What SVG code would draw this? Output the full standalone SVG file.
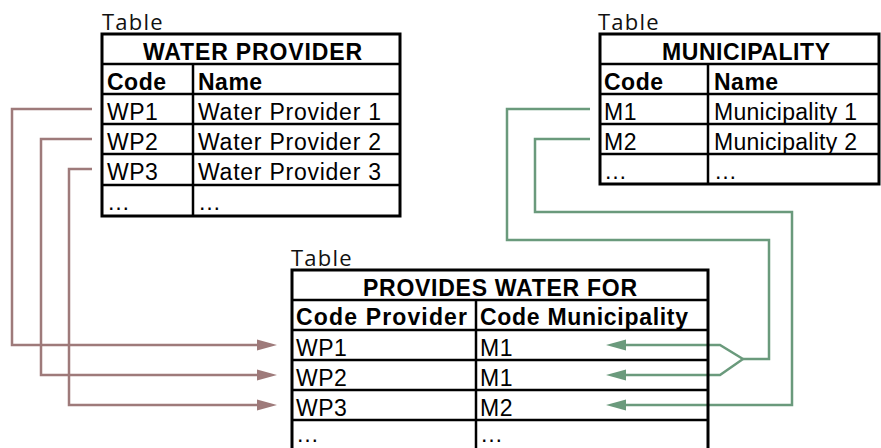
<svg xmlns="http://www.w3.org/2000/svg" width="881" height="448" viewBox="0 0 881 448">
  <style>
    .cap { font-family: "Open Sans", "Noto Sans", sans-serif; font-size: 22px; letter-spacing: 1.2px; fill: #111; }
    .t { font-family: "Liberation Sans", Arial, sans-serif; font-size: 23px; letter-spacing: 0.5px; fill: #000; }
    .b { font-family: "Liberation Sans", Arial, sans-serif; font-size: 23px; font-weight: bold; letter-spacing: 0.5px; fill: #000; }
    .fit { letter-spacing: 0; }
    .frame { fill: none; stroke: #000; stroke-width: 3; }
    .grid { fill: none; stroke: #000; stroke-width: 2.5; }
    .fk-p { fill: none; stroke: #9e7a7a; stroke-width: 2.5; marker-end: url(#arrowP); }
    .fk-m { fill: none; stroke: #6a9a7c; stroke-width: 2.5; }
    .fk-m.end { marker-end: url(#arrowM); }
  </style>
  <defs>
    <marker id="arrowP" markerUnits="userSpaceOnUse" markerWidth="22" markerHeight="14" refX="1" refY="6" orient="auto">
      <path d="M0,0.5 L20,6 L0,11.5 Z" fill="#9e7a7a"/>
    </marker>
    <marker id="arrowM" markerUnits="userSpaceOnUse" markerWidth="22" markerHeight="14" refX="1" refY="6" orient="auto">
      <path d="M0,0.5 L20,6 L0,11.5 Z" fill="#6a9a7c"/>
    </marker>
  </defs>

  <rect width="881" height="448" fill="#fff"/>

  <!-- foreign-key links -->
  <g id="connectors">
    <path class="fk-p" d="M92,109 H12 V345 H258"/>
    <path class="fk-p" d="M92,139 H41 V375 H258"/>
    <path class="fk-p" d="M92,169 H69 V405 H258"/>
    <path class="fk-m" d="M590,109 H507 V240 H769 V359 H743"/>
    <path class="fk-m end" d="M743,359 L720,345 H625"/>
    <path class="fk-m end" d="M743,359 L720,375 H625"/>
    <path class="fk-m end" d="M590,139 H535 V212 H792 V405 H625"/>
  </g>

  <!-- WATER PROVIDER -->
  <g id="water-provider">
    <text class="cap" x="102" y="30">Table</text>
    <rect class="frame" x="102" y="34" width="298" height="182"/>
    <path class="grid" d="M102,64 H400 M102,94 H400 M102,124 H400 M102,154 H400 M102,185 H400 M193,64 V216"/>
    <text class="b fit" x="143" y="60" textLength="219" lengthAdjust="spacing">WATER PROVIDER</text>
    <text class="b" x="107" y="90">Code</text>
    <text class="b" x="198" y="90">Name</text>
    <text class="t" x="107" y="120">WP1</text>
    <text class="t fit" x="198" y="120" textLength="183" lengthAdjust="spacing">Water Provider 1</text>
    <text class="t" x="107" y="150">WP2</text>
    <text class="t fit" x="198" y="150" textLength="183" lengthAdjust="spacing">Water Provider 2</text>
    <text class="t" x="107" y="180">WP3</text>
    <text class="t fit" x="198" y="180" textLength="183" lengthAdjust="spacing">Water Provider 3</text>
    <text class="t" x="107" y="210">…</text>
    <text class="t" x="198" y="210">…</text>
  </g>

  <!-- MUNICIPALITY -->
  <g id="municipality">
    <text class="cap" x="598" y="30">Table</text>
    <rect class="frame" x="600" y="34" width="279" height="150"/>
    <path class="grid" d="M600,64 H879 M600,94 H879 M600,124 H879 M600,154 H879 M708,64 V184"/>
    <text class="b fit" x="662" y="60" textLength="168" lengthAdjust="spacing">MUNICIPALITY</text>
    <text class="b" x="604" y="90">Code</text>
    <text class="b" x="714" y="90">Name</text>
    <text class="t" x="604" y="120">M1</text>
    <text class="t fit" x="714" y="120" textLength="143" lengthAdjust="spacing">Municipality 1</text>
    <text class="t" x="604" y="150">M2</text>
    <text class="t fit" x="714" y="150" textLength="143" lengthAdjust="spacing">Municipality 2</text>
    <text class="t" x="604" y="179">…</text>
    <text class="t" x="714" y="179">…</text>
  </g>

  <!-- PROVIDES WATER FOR -->
  <g id="provides-water-for">
    <text class="cap" x="291" y="266">Table</text>
    <rect class="frame" x="292" y="270" width="416" height="184"/>
    <path class="grid" d="M292,300 H708 M292,330 H708 M292,360 H708 M292,390 H708 M292,420 H708 M476,300 V454"/>
    <text class="b fit" x="363" y="296" textLength="274" lengthAdjust="spacing">PROVIDES WATER FOR</text>
    <text class="b fit" x="296" y="325" textLength="171" lengthAdjust="spacing">Code Provider</text>
    <text class="b fit" x="480" y="325" textLength="208" lengthAdjust="spacing">Code Municipality</text>
    <text class="t" x="296" y="356">WP1</text>
    <text class="t" x="480" y="356">M1</text>
    <text class="t" x="296" y="386">WP2</text>
    <text class="t" x="480" y="386">M1</text>
    <text class="t" x="296" y="416">WP3</text>
    <text class="t" x="480" y="416">M2</text>
    <text class="t" x="296" y="442">…</text>
    <text class="t" x="480" y="442">…</text>
  </g>
</svg>
